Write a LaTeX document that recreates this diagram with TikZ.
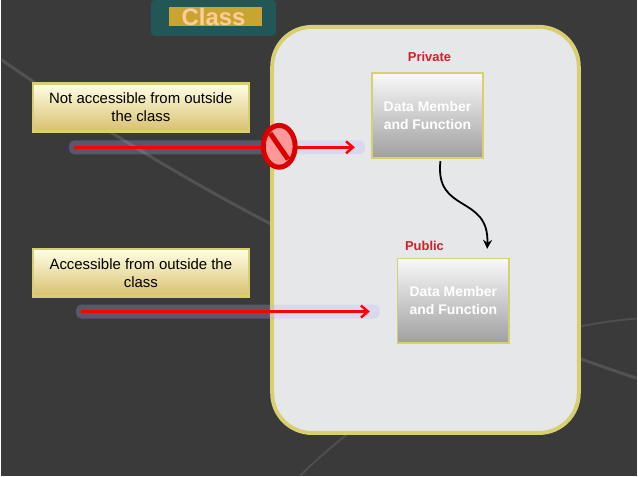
\documentclass[tikz,border=0pt]{standalone}
\usepackage{fontspec}
\setmainfont{Liberation Sans}
\usetikzlibrary{arrows.meta,shapes.geometric,calc}
\definecolor{bg}{HTML}{3A3A3A}
\definecolor{panel}{HTML}{E6E7E9}
\definecolor{glow}{HTML}{D8D070}
\definecolor{gold}{HTML}{C8A530}
\definecolor{pred}{HTML}{D0202A}
\tikzset{
  x=1pt,y=-1pt,
  dm/.style={draw=glow,line width=1.5pt,top color=white!95!gray,bottom color=gray!75,
    minimum width=112pt,minimum height=85pt,align=center,text=white,font=\bfseries\fontsize{14pt}{18pt}\selectfont},
  lbl/.style={draw=glow,line width=2.5pt,top color=white!90!yellow,bottom color=gold!70,
    minimum width=217pt,minimum height=48pt,align=center,font=\fontsize{15pt}{18pt}\selectfont,inner sep=2pt},
  access/.style={text=pred,font=\bfseries\fontsize{13pt}{15pt}\selectfont},
  redarr/.style={draw=red,line width=2.4pt,-{Straight Barb[length=7pt,width=12pt]}},
}
\begin{document}
\begin{tikzpicture}
\fill[bg] (0,0) rectangle (638,478);
\draw[white!12!bg,line width=3pt] (0,60) .. controls (200,200) and (400,300) .. (638,380);
\draw[white!10!bg,line width=2pt] (300,478) .. controls (400,380) and (520,330) .. (638,320);
% title
\fill[teal!40!bg,rounded corners=4pt] (150,0) rectangle (276,36);
\fill[gold] (168,7) rectangle (262,26);
\node[text=orange!40!white,font=\bfseries\fontsize{24pt}{26pt}\selectfont] (title) at (213,17) {Class};
% panel
\draw[glow,line width=4pt,fill=panel,rounded corners=40pt] (272,27) rectangle (580,435);
\node[access] (priv) at (430,57) {Private};
\node[dm] (dm1) at (428,116) {Data Member\\and Function};
\node[access] (pub) at (425,247) {Public};
\node[dm] (dm2) at (454,302) {Data Member\\and Function};
% labels
\node[lbl] (l1) at (140,108) {Not accessible from outside\\the class};
\node[lbl] (l2) at (140,274) {Accessible from outside the\\class};
\coordinate (s1) at (73,148);
\coordinate (e1) at (355,148);
\coordinate (s2) at (80,313);
\coordinate (e2) at (370,313);
\fill[blue!30!white,opacity=0.25,rounded corners=5pt] (68,141) rectangle (365,155);
\fill[blue!30!white,opacity=0.25,rounded corners=5pt] (75,306) rectangle (380,320);
\draw[redarr] (s1) -- (e1);
\draw[redarr] (s2) -- (e2);
% prohibition sign
\node[ellipse,draw=red!85!black,line width=5pt,fill=white!60!red,minimum width=32pt,minimum height=42pt,inner sep=0pt] (no) at (279,147) {};
\draw[red!85!black,line width=5pt] ($(no.center)+(-9,-13)$) -- ($(no.center)+(9,13)$);
% curve
\coordinate (c1) at (441,162);
\draw[black,line width=1.8pt,-{Stealth[length=9pt,width=9pt]}] (c1) .. controls (435,215) and (490,195) .. (488,250);
\end{tikzpicture}
\end{document}
